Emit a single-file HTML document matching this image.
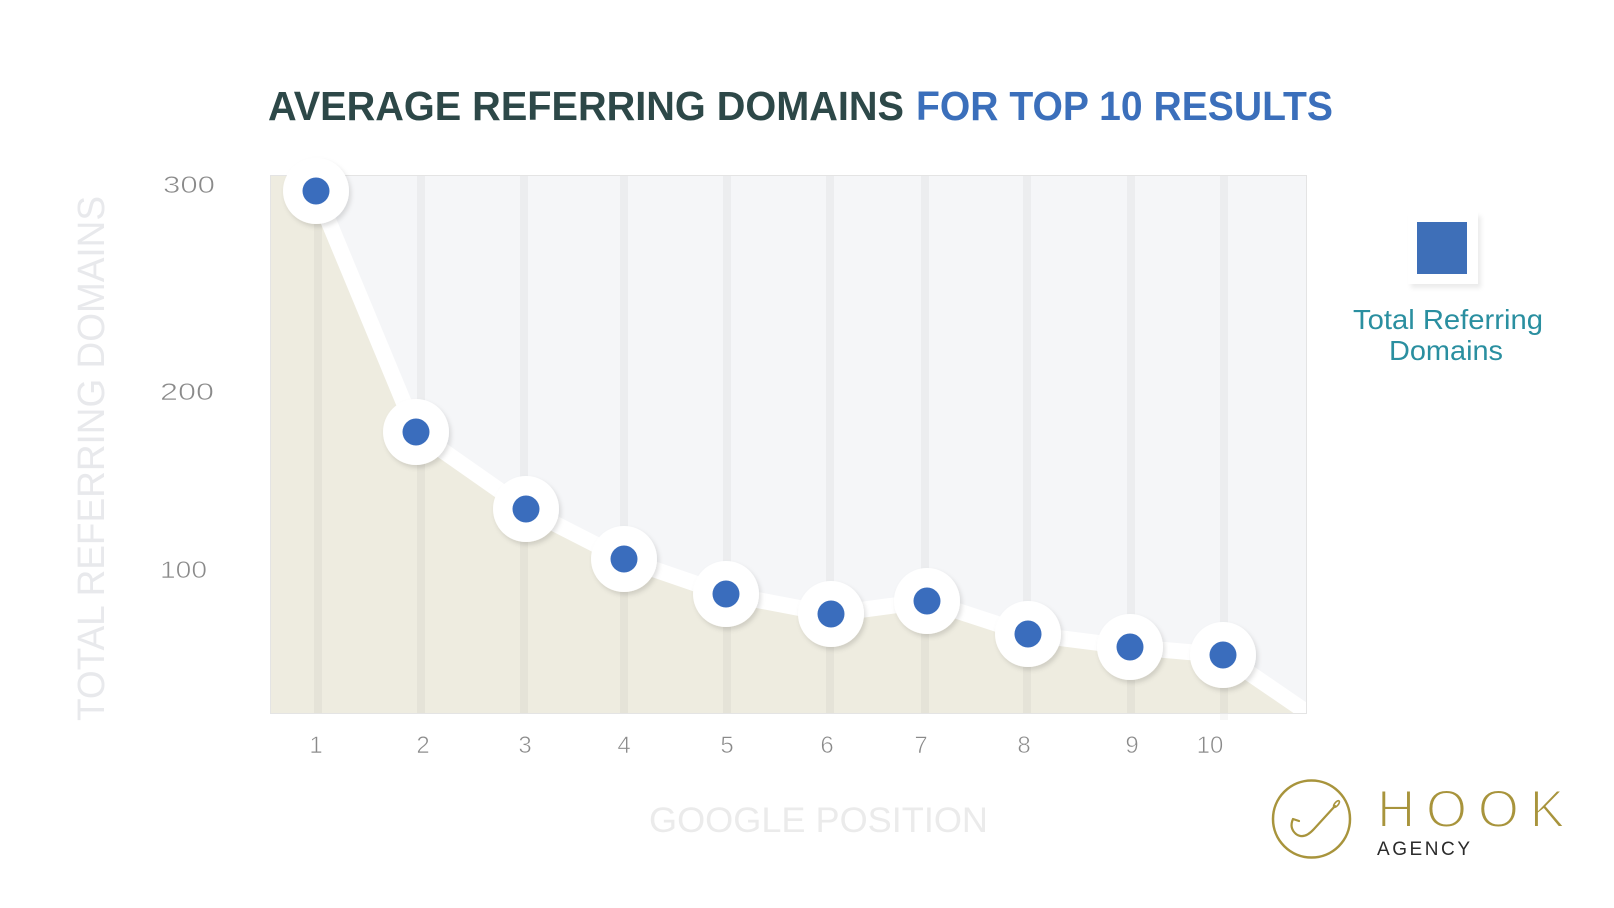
<!DOCTYPE html>
<html>
<head>
<meta charset="utf-8">
<style>
  html, body { margin: 0; padding: 0; background: #ffffff; }
  body { width: 1614px; height: 908px; overflow: hidden; }
  svg { display: block; }
  text { font-family: "Liberation Sans", "DejaVu Sans", sans-serif; }
</style>
</head>
<body>
<svg width="1614" height="908" viewBox="0 0 1614 908" xmlns="http://www.w3.org/2000/svg">
  <defs>
    <filter id="sh" x="-40%" y="-40%" width="180%" height="180%">
      <feDropShadow dx="2" dy="3" stdDeviation="2.5" flood-color="#000" flood-opacity="0.13"/>
    </filter>
    <filter id="sh2" x="-30%" y="-30%" width="160%" height="160%">
      <feDropShadow dx="3" dy="4" stdDeviation="2" flood-color="#000" flood-opacity="0.08"/>
    </filter>
    <clipPath id="plotclip">
      <rect x="270" y="175" width="1037" height="539"/>
    </clipPath>
  </defs>

  <!-- Title -->
  <text x="268" y="120" font-size="41" font-weight="bold" fill="#2d4848" textLength="636" lengthAdjust="spacingAndGlyphs">AVERAGE REFERRING DOMAINS</text>
  <text x="916" y="120" font-size="41" font-weight="bold" fill="#3b6fbb" textLength="417" lengthAdjust="spacingAndGlyphs">FOR TOP 10 RESULTS</text>

  <!-- Plot background -->
  <rect x="270" y="175" width="1037" height="539" fill="#f5f6f8"/>

  <g clip-path="url(#plotclip)">
    <polygon fill="#eeece0" points="270,175 316,175 316,191 416,432 526,509 624,559 726,594 831,614 927,601 1028,634 1130,647 1223,655 1307,712 1307,714 270,714"/>
    <g fill="#000" fill-opacity="0.037">
      <rect x="314" y="175" width="8" height="539"/>
      <rect x="417" y="175" width="8" height="539"/>
      <rect x="520" y="175" width="8" height="539"/>
      <rect x="620" y="175" width="8" height="539"/>
      <rect x="723" y="175" width="8" height="539"/>
      <rect x="826" y="175" width="8" height="539"/>
      <rect x="921" y="175" width="8" height="539"/>
      <rect x="1023" y="175" width="8" height="539"/>
      <rect x="1127" y="175" width="8" height="539"/>
      <rect x="1220" y="175" width="8" height="539"/>
    </g>
    <polyline fill="none" stroke="#ffffff" stroke-width="16" stroke-linejoin="round" stroke-linecap="round"
      points="316,191 416,432 526,509 624,559 726,594 831,614 927,601 1028,634 1130,647 1223,655 1312,716"/>
  </g>
  <rect x="1220" y="714" width="8" height="6" fill="#000" fill-opacity="0.03"/>

  <rect x="270.5" y="175.5" width="1036" height="538" fill="none" stroke="#e4e4e4" stroke-width="1"/>

  <!-- markers -->
  <g filter="url(#sh)" fill="#ffffff">
    <circle cx="316" cy="191" r="33"/>
    <circle cx="416" cy="432" r="33"/>
    <circle cx="526" cy="509" r="33"/>
    <circle cx="624" cy="559" r="33"/>
    <circle cx="726" cy="594" r="33"/>
    <circle cx="831" cy="614" r="33"/>
    <circle cx="927" cy="601" r="33"/>
    <circle cx="1028" cy="634" r="33"/>
    <circle cx="1130" cy="647" r="33"/>
    <circle cx="1223" cy="655" r="33"/>
  </g>
  <g fill="#3a6dbd">
    <circle cx="316" cy="191" r="13.5"/>
    <circle cx="416" cy="432" r="13.5"/>
    <circle cx="526" cy="509" r="13.5"/>
    <circle cx="624" cy="559" r="13.5"/>
    <circle cx="726" cy="594" r="13.5"/>
    <circle cx="831" cy="614" r="13.5"/>
    <circle cx="927" cy="601" r="13.5"/>
    <circle cx="1028" cy="634" r="13.5"/>
    <circle cx="1130" cy="647" r="13.5"/>
    <circle cx="1223" cy="655" r="13.5"/>
  </g>

  <!-- Y tick labels -->
  <g font-size="24" fill="#8a8a8a" stroke="#ffffff" stroke-width="0.6">
    <text x="163" y="193" textLength="52" lengthAdjust="spacingAndGlyphs">300</text>
    <text x="160" y="400" textLength="54" lengthAdjust="spacingAndGlyphs">200</text>
    <text x="160" y="578" textLength="47" lengthAdjust="spacingAndGlyphs">100</text>
  </g>

  <!-- X tick labels -->
  <g font-size="24" fill="#8a8a8a" text-anchor="middle" stroke="#ffffff" stroke-width="0.6">
    <text x="316" y="753">1</text>
    <text x="423" y="753">2</text>
    <text x="525" y="753">3</text>
    <text x="624" y="753">4</text>
    <text x="727" y="753">5</text>
    <text x="827" y="753">6</text>
    <text x="921" y="753">7</text>
    <text x="1024" y="753">8</text>
    <text x="1132" y="753">9</text>
    <text x="1210" y="753">10</text>
  </g>

  <!-- Axis titles -->
  <text transform="translate(104,721) rotate(-90)" x="0" y="0" font-size="38" fill="#e8e9ec" textLength="525" lengthAdjust="spacingAndGlyphs">TOTAL REFERRING DOMAINS</text>
  <text x="649" y="832" font-size="35" fill="#ebebeb" textLength="339" lengthAdjust="spacingAndGlyphs">GOOGLE POSITION</text>

  <!-- Legend -->
  <rect x="1408" y="212" width="70" height="72" fill="#ffffff" filter="url(#sh2)"/>
  <rect x="1417" y="222" width="50" height="52" fill="#3e6fb8"/>
  <text x="1353" y="329" font-size="28" fill="#2a8fa0" textLength="190" lengthAdjust="spacingAndGlyphs">Total Referring</text>
  <text x="1389" y="360" font-size="28" fill="#2a8fa0" textLength="114" lengthAdjust="spacingAndGlyphs">Domains</text>

  <!-- Logo -->
  <circle cx="1311.5" cy="819" r="38.5" fill="none" stroke="#a8943c" stroke-width="2.5"/>
  <path d="M1335,806 L1314,829 Q1304,840 1296,834 Q1289,828 1293,819 L1299,821" fill="none" stroke="#a8943c" stroke-width="2.2" stroke-linecap="round" stroke-linejoin="round"/>
  <ellipse cx="1336.5" cy="804" rx="4" ry="1.8" transform="rotate(-50 1336.5 804)" fill="none" stroke="#a8943c" stroke-width="1.6"/>
  <text x="1377" y="827" font-size="53" fill="#a8943c" stroke="#ffffff" stroke-width="2" textLength="188" lengthAdjust="spacing">HOOK</text>
  <text x="1377" y="855" font-size="19" fill="#2b2b2b" textLength="93" lengthAdjust="spacing">AGENCY</text>
</svg>
</body>
</html>
